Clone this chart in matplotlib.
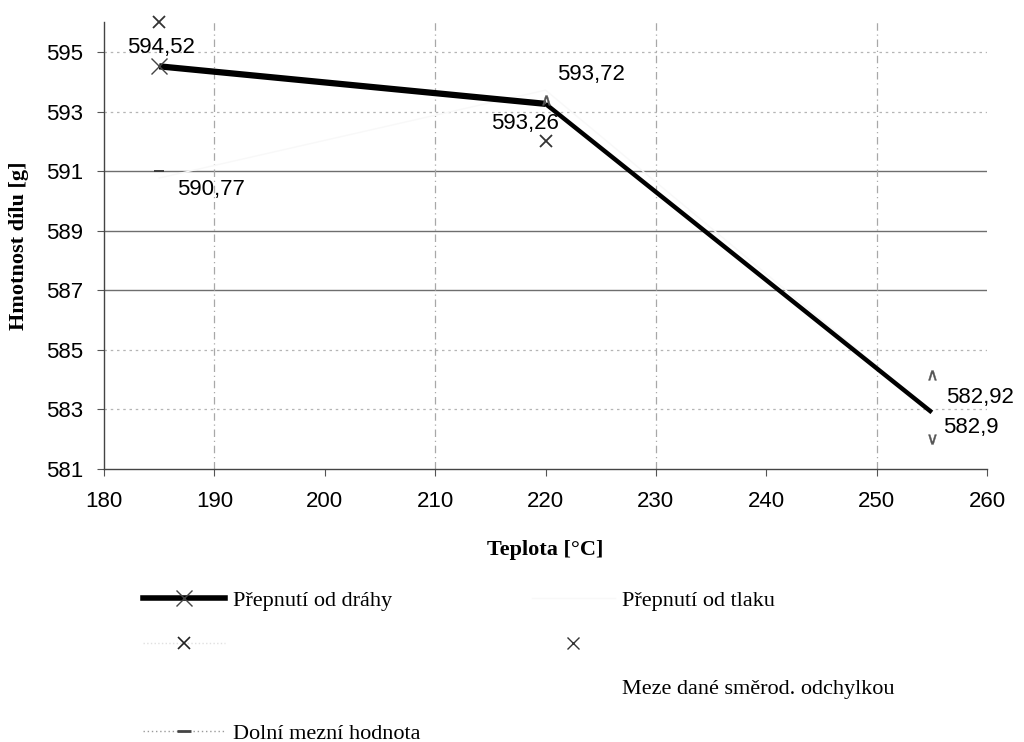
import numpy as np
import matplotlib
matplotlib.use("Agg")
import matplotlib.pyplot as plt
from matplotlib.lines import Line2D

# --- data ---
teplota = [185, 220, 255]
od_drahy = [594.52, 593.26, 582.9]
od_tlaku = [590.77, 593.72, 582.92]

# limits given by the standard deviation (upper / lower marks, as seen in the scan)
meze_x = [185, 220, 255, 185, 220, 255]
meze_y = [596.0, 593.4, 584.15, 591.0, 592.0, 582.0]
meze_znacky = ["x", "$\\wedge$", "$\\wedge$", "_", "x", "$\\vee$"]

lbl_drahy = ["594,52", "593,26", "582,9"]
lbl_tlaku = ["590,77", "593,72", "582,92"]

x_ticks = list(range(180, 261, 10))
y_ticks = list(range(581, 596, 2))
x_grid = [190, 210, 230, 250]

SANS = "Liberation Sans"
SERIF = "Liberation Serif"
FS = 16

fig = plt.figure(figsize=(10.24, 7.42), dpi=100)
ax = fig.add_axes([0.1016, 0.368, 0.8623, 0.602])

# grid (the middle lines came out darker in the original)
for y in y_ticks[1:]:
    if 587 <= y <= 591:
        ax.axhline(y, color="#6e6e6e", lw=1.0, zorder=0)
    else:
        ax.axhline(y, color="#b5b5b5", lw=0.9, ls=(0, (2, 3)), zorder=0)
for x in x_grid:
    ax.axvline(x, color="#a8a8a8", lw=0.9, ls=(0, (6, 3, 1, 3)), zorder=0)

# series
ax.plot(teplota, od_tlaku, color="#f8f8f8", lw=1, zorder=1)
ax.plot(teplota[:2], od_drahy[:2], color="black", lw=4.5, solid_capstyle="butt", zorder=3)
ax.plot(teplota[1:], od_drahy[1:], color="black", lw=3.2, solid_capstyle="butt", zorder=3)
ax.plot(teplota[:1], od_drahy[:1], ls="none", marker="x", ms=12, mew=1.0,
        color="#444444", zorder=4)
for x, y, m in zip(meze_x, meze_y, meze_znacky):
    if m.startswith("$"):
        ax.plot(x, y, ls="none", marker=m, ms=7, mew=0.3, color="#555555",
                clip_on=False, zorder=4)
    else:
        ax.plot(x, y, ls="none", marker=m, ms=8 if m == "x" else 7,
                mew=1.3, color="#333333", clip_on=False, zorder=4)

# data labels
def popis(x, y, txt, dx, dy):
    ax.annotate(txt, (x, y), xytext=(dx, dy), textcoords="offset points",
                ha="center", va="center", fontsize=FS, family=SANS)

popis(teplota[0], od_drahy[0], lbl_drahy[0], 1, 13.5)
popis(teplota[1], od_drahy[1], lbl_drahy[1], -15, -14.5)
popis(teplota[2], od_drahy[2], lbl_drahy[2], 28, -11)
popis(teplota[0], od_tlaku[0], lbl_tlaku[0], 37, -8.5)
popis(teplota[1], od_tlaku[1], lbl_tlaku[1], 33, 11)
popis(teplota[2], od_tlaku[2], lbl_tlaku[2], 35, 10)

ax.set_xlim(180, 260)
ax.set_ylim(581, 596)
ax.set_xticks(x_ticks)
ax.set_yticks(y_ticks)
for lab in ax.get_xticklabels() + ax.get_yticklabels():
    lab.set_fontfamily(SANS)
    lab.set_fontsize(FS)
ax.tick_params(axis="both", direction="out", length=5, width=0.8, color="#555555")
ax.tick_params(axis="x", pad=11)
ax.tick_params(axis="y", pad=10)
for s in ["top", "right"]:
    ax.spines[s].set_visible(False)
for s in ["left", "bottom"]:
    ax.spines[s].set_color("#444444")
    ax.spines[s].set_linewidth(1.0)

ax.set_xlabel("Teplota [°C]", fontsize=FS, fontweight="bold", family=SERIF, labelpad=20)
ax.set_ylabel("Hmotnost dílu [g]", fontsize=FS, fontweight="bold", family=SERIF)
ax.yaxis.set_label_coords(-0.085, 0.5)

# legend, two columns laid out like the Excel original
blank = Line2D([], [], color="none")
h_levy = [
    Line2D([], [], color="black", lw=4, marker="x", ms=12, mew=1.0, mec="#444444"),
    Line2D([], [], color="#e0e0e0", lw=1, ls=":", marker="x", ms=8, mew=1.2, mec="#222222"),
    blank,
    Line2D([], [], color="#9a9a9a", lw=1, ls=(0, (1, 2)), marker="_", ms=10, mew=2, mec="#444444"),
]
l_levy = ["Přepnutí od dráhy", "", "", "Dolní mezní hodnota"]
h_pravy = [
    Line2D([], [], color="#f8f8f8", lw=1),
    Line2D([], [], ls="none", marker="x", ms=8, mew=1.0, color="#333333"),
    blank,
    blank,
]
l_pravy = ["Přepnutí od tlaku", "", "Meze dané směrod. odchylkou", ""]

opts = dict(loc="upper left", frameon=False, prop={"family": SERIF, "size": FS},
            handlelength=3.7, handletextpad=0.32, labelspacing=1.06, borderpad=0)
leg1 = fig.legend(h_levy, l_levy, bbox_to_anchor=(0.129, 0.219), **opts)
leg2 = fig.legend(h_pravy, l_pravy, bbox_to_anchor=(0.509, 0.219), **opts)

plt.savefig("out.png", dpi=100)
plt.close()
